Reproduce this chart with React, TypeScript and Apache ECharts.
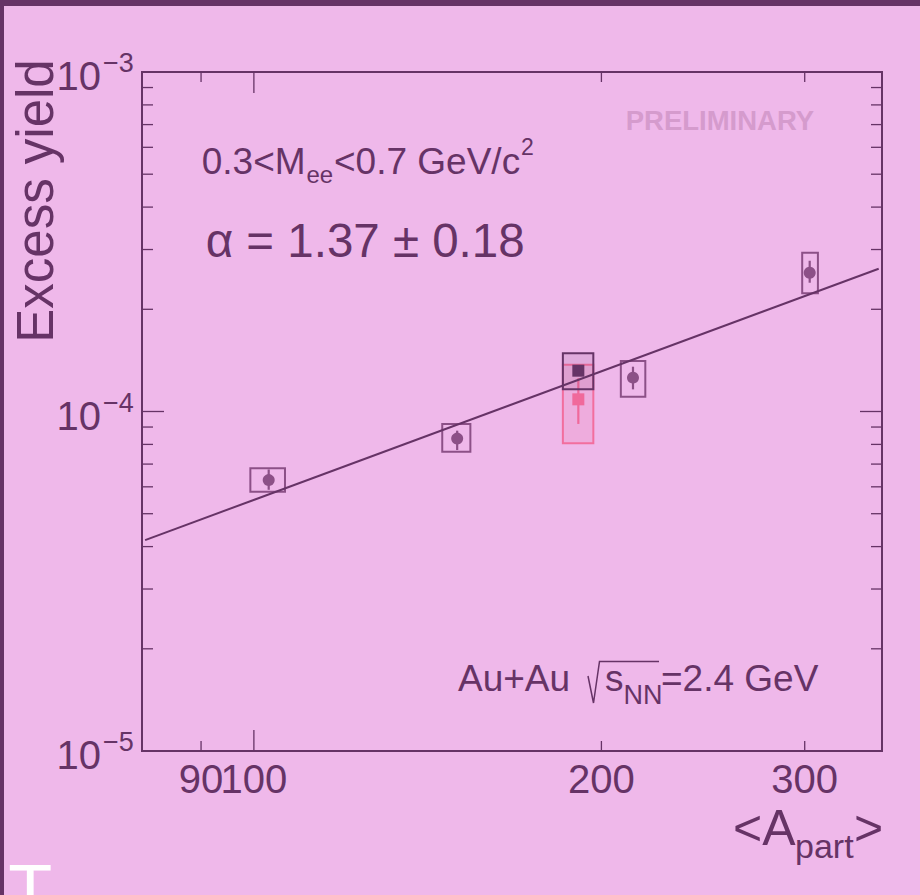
import React, { useEffect, useRef } from "react";
import * as echarts from "echarts";

// ---------- data ----------
const X_MIN = 80;
const X_MAX = 350;
const Y_MIN = 1e-5;
const Y_MAX = 1e-3;

// centrality classes (circles)
const apart = [103, 150, 213, 303];
const apartLo = [99.3, 145.6, 207.9, 298.5];
const apartHi = [106.4, 154.0, 218.3, 308.0];
const excessYield = [6.28e-5, 8.32e-5, 1.258e-4, 2.563e-4];
const statLo = [5.88e-5, 7.7e-5, 1.162e-4, 2.395e-4];
const statHi = [6.75e-5, 8.78e-5, 1.355e-4, 2.78e-4];
const sysLo = [5.8e-5, 7.61e-5, 1.105e-4, 2.23e-4];
const sysHi = [6.8e-5, 9.19e-5, 1.408e-4, 2.935e-4];

// combined class (dark square)
const combApart = [191];
const combApartLo = [185.2];
const combApartHi = [196.8];
const combYield = [1.319e-4];
const combStatLo = [1.28e-4];
const combStatHi = [1.36e-4];
const combSysLo = [1.162e-4];
const combSysHi = [1.484e-4];

// combined class, alternative (pink square)
const pinkYield = [1.086e-4];
const pinkStatLo = [9.19e-5];
const pinkStatHi = [1.253e-4];
const pinkSysLo = [8.06e-5];
const pinkSysHi = [1.373e-4];

// power-law fit (straight in log-log), end points
const fitX = [80.5, 347.7];
const fitY = [4.18e-5, 2.634e-4];

// axis ticks / labels
const xTickValues = [90, 100, 200, 300];
const xTickLabels = ["90", "100", "200", "300"];
const xLongTicks = [100];
const yMajorValues = [1e-5, 1e-4, 1e-3];
const yMajorExponents = ["\u22125", "\u22124", "\u22123"];
const yMinorValues = [
  2e-5, 3e-5, 4e-5, 5e-5, 6e-5, 7e-5, 8e-5, 9e-5,
  2e-4, 3e-4, 4e-4, 5e-4, 6e-4, 7e-4, 8e-4, 9e-4,
];

// ---------- style ----------
const FONT = "'Liberation Sans', Arial, Helvetica, sans-serif";
const DARK = "#663366";
const MID = "#8c5087";
const PINK = "#f0699b";
const BG = "#efb8ea";

function txt(text: string, x: number, y: number, size: number, opts: any = {}) {
  const align = opts.align || "left";
  return {
    type: "text",
    x,
    y,
    rotation: opts.rotation || 0,
    z: 100,
    style: {
      text,
      fontSize: size,
      fontFamily: FONT,
      fontWeight: opts.weight || "normal",
      fill: opts.fill || DARK,
      align,
      textAlign: align,
      verticalAlign: "middle",
      textVerticalAlign: "middle",
    },
  };
}

function boxRender(marker: "circle" | "square", stroke: string, markerFill: string, boxFill: string) {
  return (params: any, api: any) => {
    const x = api.value(0);
    const y = api.value(1);
    const sLo = api.value(2);
    const sHi = api.value(3);
    const yLo = api.value(4);
    const yHi = api.value(5);
    const xLo = api.value(6);
    const xHi = api.value(7);
    const c = api.coord([x, y]);
    const b1 = api.coord([xLo, yHi]);
    const b2 = api.coord([xHi, yLo]);
    const e1 = api.coord([x, sHi]);
    const e2 = api.coord([x, sLo]);
    const children: any[] = [
      {
        type: "rect",
        shape: { x: b1[0], y: b1[1], width: b2[0] - b1[0], height: b2[1] - b1[1] },
        style: { fill: boxFill, stroke, lineWidth: 2 },
      },
      {
        type: "line",
        shape: { x1: e1[0], y1: e1[1], x2: e2[0], y2: e2[1] },
        style: { stroke: markerFill, lineWidth: 2.2 },
      },
    ];
    if (marker === "circle") {
      children.push({ type: "circle", shape: { cx: c[0], cy: c[1], r: 6 }, style: { fill: markerFill } });
    } else {
      children.push({ type: "rect", shape: { x: c[0] - 6, y: c[1] - 6, width: 12, height: 12 }, style: { fill: markerFill } });
    }
    return { type: "group", children };
  };
}

export default function App() {
  const ref = useRef<HTMLDivElement>(null);

  useEffect(() => {
    if (!ref.current) return;
    const chart = echarts.init(ref.current, null, { renderer: "svg" });

    const circleData = apart.map((a, i) => [a, excessYield[i], statLo[i], statHi[i], sysLo[i], sysHi[i], apartLo[i], apartHi[i]]);
    const combData = combApart.map((a, i) => [a, combYield[i], combStatLo[i], combStatHi[i], combSysLo[i], combSysHi[i], combApartLo[i], combApartHi[i]]);
    const pinkData = combApart.map((a, i) => [a, pinkYield[i], pinkStatLo[i], pinkStatHi[i], pinkSysLo[i], pinkSysHi[i], combApartLo[i], combApartHi[i]]);

    const yTickData = [
      ...yMajorValues.map((v) => [X_MIN, v, 1]),
      ...yMinorValues.map((v) => [X_MIN, v, 0]),
    ];
    const xTickData = xTickValues.map((v) => [v, Y_MIN, xLongTicks.includes(v) ? 1 : 0]);

    const tickStyle = { stroke: DARK, lineWidth: 1.3 };

    const option: any = {
      animation: false,
      backgroundColor: BG,
      grid: {
        left: 142,
        top: 72,
        right: 38,
        bottom: 144,
        show: true,
        borderColor: DARK,
        borderWidth: 2,
        backgroundColor: "transparent",
      },
      xAxis: {
        type: "log",
        logBase: 10,
        min: X_MIN,
        max: X_MAX,
        axisLine: { show: false },
        axisTick: { show: false },
        axisLabel: { show: false },
        splitLine: { show: false },
        minorTick: { show: false },
      },
      yAxis: {
        type: "log",
        logBase: 10,
        min: Y_MIN,
        max: Y_MAX,
        axisLine: { show: false },
        axisTick: { show: false },
        axisLabel: { show: false },
        splitLine: { show: false },
        minorTick: { show: false },
      },
      series: [
        {
          type: "custom",
          name: "yTicks",
          clip: false,
          silent: true,
          data: yTickData,
          encode: { x: 0, y: 1 },
          renderItem: (params: any, api: any) => {
            const p = api.coord([api.value(0), api.value(1)]);
            const cs = params.coordSys;
            const len = api.value(2) ? 22 : 11;
            return {
              type: "group",
              children: [
                { type: "line", shape: { x1: cs.x, y1: p[1], x2: cs.x + len, y2: p[1] }, style: tickStyle },
                { type: "line", shape: { x1: cs.x + cs.width, y1: p[1], x2: cs.x + cs.width - len, y2: p[1] }, style: tickStyle },
              ],
            };
          },
        },
        {
          type: "custom",
          name: "xTicks",
          clip: false,
          silent: true,
          data: xTickData,
          encode: { x: 0, y: 1 },
          renderItem: (params: any, api: any) => {
            const p = api.coord([api.value(0), api.value(1)]);
            const cs = params.coordSys;
            const len = api.value(2) ? 21 : 10;
            return {
              type: "group",
              children: [
                { type: "line", shape: { x1: p[0], y1: cs.y + cs.height, x2: p[0], y2: cs.y + cs.height - len }, style: tickStyle },
                { type: "line", shape: { x1: p[0], y1: cs.y, x2: p[0], y2: cs.y + len }, style: tickStyle },
              ],
            };
          },
        },
        {
          type: "custom",
          name: "yLabels",
          clip: false,
          silent: true,
          data: yMajorValues.map((v) => [X_MIN, v]),
          encode: { x: 0, y: 1 },
          renderItem: (params: any, api: any) => {
            const p = api.coord([api.value(0), api.value(1)]);
            const cs = params.coordSys;
            const base = txt("10", cs.x - 41, p[1] + 4, 40, { align: "right" });
            const exp = txt(yMajorExponents[params.dataIndex], cs.x - 39, p[1] - 9, 27, { align: "left" });
            return { type: "group", children: [base, exp] };
          },
        },
        {
          type: "custom",
          name: "xLabels",
          clip: false,
          silent: true,
          data: xTickValues.map((v) => [v, Y_MIN]),
          encode: { x: 0, y: 1 },
          renderItem: (params: any, api: any) => {
            const p = api.coord([api.value(0), api.value(1)]);
            const cs = params.coordSys;
            return txt(xTickLabels[params.dataIndex], p[0], cs.y + cs.height + 28, 40, { align: "center" });
          },
        },
        {
          type: "custom",
          name: "combined (alt)",
          clip: false,
          data: pinkData,
          encode: { x: 0, y: 1 },
          z: 3,
          renderItem: boxRender("square", "#f26e9e", PINK, "rgba(240,110,160,0.17)"),
        },
        {
          type: "custom",
          name: "combined",
          clip: false,
          data: combData,
          encode: { x: 0, y: 1 },
          z: 4,
          renderItem: boxRender("square", DARK, DARK, "rgba(102,51,102,0.10)"),
        },
        {
          type: "custom",
          name: "centrality",
          clip: false,
          data: circleData,
          encode: { x: 0, y: 1 },
          z: 4,
          renderItem: boxRender("circle", MID, MID, "transparent"),
        },
        {
          type: "line",
          name: "fit",
          data: fitX.map((x, i) => [x, fitY[i]]),
          showSymbol: false,
          symbol: "none",
          z: 6,
          lineStyle: { color: DARK, width: 2 },
        },
      ],
      graphic: [
        { type: "rect", shape: { x: 0, y: 0, width: 920, height: 6 }, style: { fill: DARK }, z: 100 },
        { type: "rect", shape: { x: 0, y: 0, width: 4, height: 895 }, style: { fill: DARK }, z: 100 },
        // axis titles
        txt("Excess yield", 35, 201, 51, { align: "center", rotation: Math.PI / 2 }),
        txt("<A", 733, 827.7, 50),
        txt("part", 795, 846.2, 34),
        txt(">", 854, 827.7, 50),
        // annotations
        txt("0.3<M", 201.7, 161.2, 37),
        txt("ee", 306.5, 174.2, 24),
        txt("<0.7 GeV/c", 334, 161.2, 37),
        txt("2", 521, 147, 23),
        txt("\u03b1 = 1.37 \u00b1 0.18", 205.7, 240.4, 47.5),
        txt("PRELIMINARY", 625.7, 120.6, 27.5, { weight: "bold", fill: "#d59bcd" }),
        txt("Au+Au", 458, 678.9, 37),
        {
          type: "polyline",
          z: 100,
          shape: { points: [[588, 676], [593.5, 703], [599.5, 661.5], [659, 661.5]] },
          style: { stroke: DARK, lineWidth: 1.5, fill: "none" },
        },
        txt("s", 605, 678.9, 37),
        txt("NN", 623.5, 694.6, 27),
        txt("=2.4 GeV", 661, 678.9, 37),
        txt("T", 8.3, 889.7, 72, { fill: "#ffffff" }),
      ],
    };

    chart.setOption(option);
    return () => {
      chart.dispose();
    };
  }, []);

  return (
    <div
      ref={ref}
      style={{ position: "absolute", left: 0, top: 0, width: 920, height: 895 }}
    />
  );
}
